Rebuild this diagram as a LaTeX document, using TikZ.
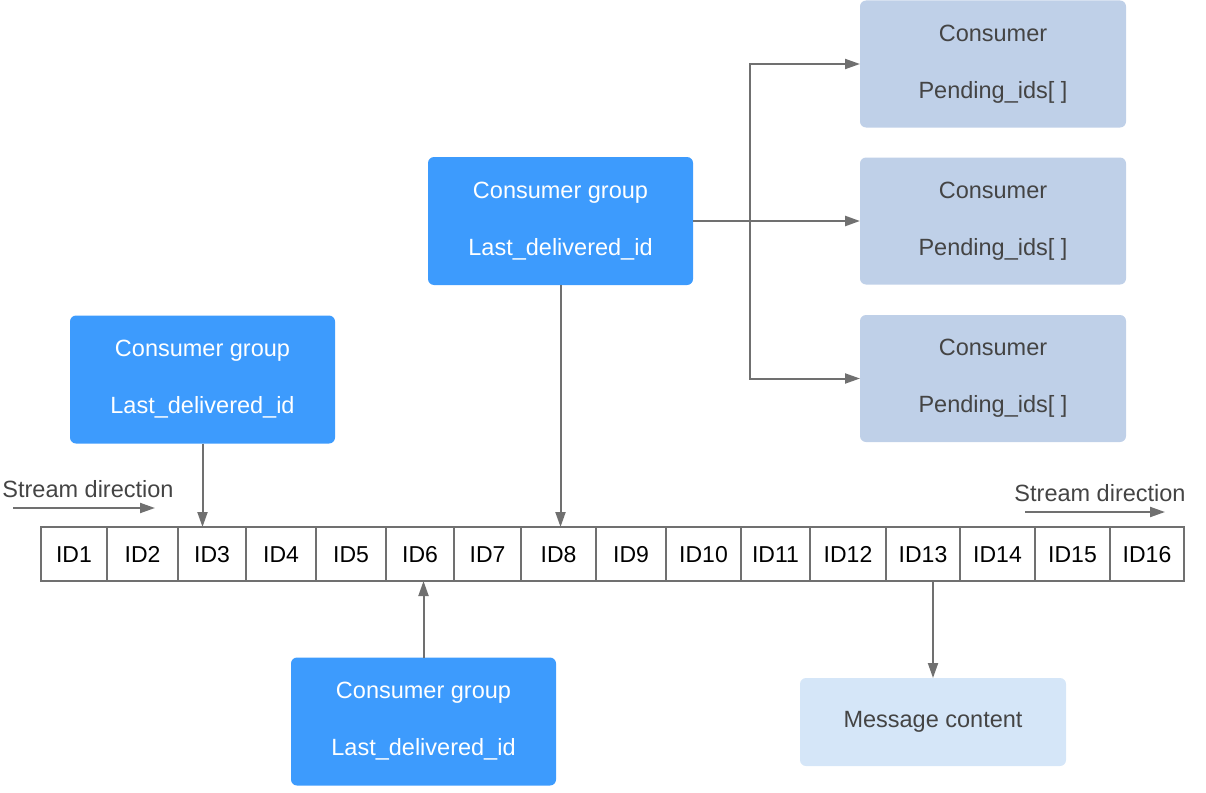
\documentclass[tikz,border=0pt]{standalone}
\usepackage{fontspec}
\setmainfont{Liberation Sans}
\usetikzlibrary{arrows.meta}
\definecolor{grpblue}{HTML}{3D9BFD}
\definecolor{consbg}{HTML}{BFD0E8}
\definecolor{msgbg}{HTML}{D5E6F8}
\definecolor{linegray}{HTML}{707070}
\definecolor{txtgray}{HTML}{444444}
\begin{document}
\begin{tikzpicture}[x=1pt,y=-1pt,
  every node/.style={inner sep=0pt,outer sep=0pt},
  grpbox/.style={fill=grpblue,rounded corners=6pt,minimum width=265pt,minimum height=128pt,
    text=white,align=center,font=\fontsize{23.5}{57}\selectfont},
  consbox/.style={fill=consbg,rounded corners=6pt,minimum width=266pt,minimum height=127pt,
    text=txtgray,align=center,font=\fontsize{23.5}{57}\selectfont},
  msgbox/.style={fill=msgbg,rounded corners=6pt,minimum width=266pt,minimum height=88pt,
    text=txtgray,align=center,font=\fontsize{23.5}{28}\selectfont},
  idcell/.style={draw=linegray,line width=1.5pt,minimum height=54pt,text=black,
    text height=16.5pt,text depth=0pt,font=\fontsize{23}{28}\selectfont},
  lbl/.style={text=txtgray,font=\fontsize{23.5}{28}\selectfont},
  arr/.style={draw=linegray,line width=2pt,-{Triangle[length=15pt,width=10pt]}},
  plain/.style={draw=linegray,line width=2pt}
]
\useasboundingbox (0,0) rectangle (1206,792);

% ID cells
\foreach \n/\a/\b in {1/41/107,2/107/178,3/178/246,4/246/316,5/316/386,6/386/454,7/454/521,8/521/596,
  9/596/666,10/666/741,11/741/810,12/810/886,13/886/960,14/960/1035,15/1035/1110,16/1110/1184}{
  \node[idcell,minimum width={(\b-\a)*1pt}] (id\n) at ({(\a+\b)/2},554) {ID\n};
}

% Consumer groups
\node[grpbox] (gtop) at (560.5,221) {Consumer group\\Last\_delivered\_id};
\node[grpbox] (gleft) at (202.5,379.5) {Consumer group\\Last\_delivered\_id};
\node[grpbox] (gbot) at (423.5,721.5) {Consumer group\\Last\_delivered\_id};

% Consumers
\node[consbox] (c1) at (993,64) {Consumer\\Pending\_ids[ ]};
\node[consbox] (c2) at (993,221) {Consumer\\Pending\_ids[ ]};
\node[consbox] (c3) at (993,378.5) {Consumer\\Pending\_ids[ ]};

% Message content
\node[msgbox] (msg) at (933,722) {Message content};

% Stream direction labels
\node[lbl] (sdl) at (88,489) {Stream direction};
\node[lbl] (sdr) at (1100,493) {Stream direction};
\coordinate (sdl1) at (13,508);
\coordinate (sdl2) at (155,508);
\coordinate (sdr1) at (1025,512);
\coordinate (sdr2) at (1165,512);
\draw[arr] (sdl1) -- (sdl2);
\draw[arr] (sdr1) -- (sdr2);

% Arrows to/from row
\draw[arr] (gleft.south) -- (gleft.south |- id3.north);
\draw[arr] (gtop.south) -- (gtop.south |- id8.north);
\draw[arr] (gbot.north) -- (gbot.north |- id6.south);
\draw[arr] (msg.north |- id13.south) -- (msg.north);

% Branch to consumers
\coordinate (br) at (750,221);
\draw[arr,line width=2.5pt] (gtop.east) -- (c2.west);
\draw[arr] (br) |- (c1.west);
\draw[arr] (br) |- (c3.west);
\end{tikzpicture}
\end{document}
